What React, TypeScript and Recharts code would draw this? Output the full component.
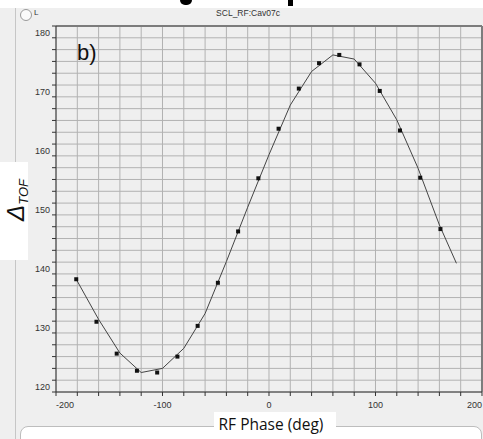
import { ComposedChart, Scatter, XAxis, YAxis, CartesianGrid, ReferenceLine } from 'recharts'

// measured phase scan points
const phase = [-181, -162, -143, -124, -105, -86, -67, -48, -29, -10, 9, 28, 47, 66, 85, 104, 123, 142, 161]
const tof = [139.1, 131.9, 126.5, 123.6, 123.3, 126.0, 131.2, 138.5, 147.2, 156.2, 164.6, 171.4, 175.7, 177.1, 175.5, 171.0, 164.3, 156.3, 147.6]

// fitted curve vertices
const fitPhase = [-181, -160, -140, -120, -100, -80, -60, -40, -20, 0, 20, 40, 60, 80, 100, 120, 140, 160, 176]
const fitTof = [139.1, 132.3, 126.6, 123.3, 124.0, 127.4, 133.3, 142.1, 151.3, 160.2, 168.6, 174.3, 177.1, 176.4, 172.3, 166.1, 157.9, 148.3, 141.8]

const xTicks = [-200, -180, -160, -140, -120, -100, -80, -60, -40, -20, 0, 20, 40, 60, 80, 100, 120, 140, 160, 180, 200]
const yTicks = [120, 122, 124, 126, 128, 130, 132, 134, 136, 138, 140, 142, 144, 146, 148, 150, 152, 154, 156, 158, 160, 162, 164, 166, 168, 170, 172, 174, 176, 178, 180, 182]

const points = phase.map((p, i) => ({ x: p, y: tof[i] }))
const fit = fitPhase.map((p, i) => ({ x: p, y: fitTof[i] }))

const tickFont = { fontFamily: 'Liberation Sans, sans-serif', fontSize: 9, fill: '#333' }

const YTick = (props: any) => {
  const { x, y, payload } = props
  if (payload.value % 10 !== 0 || payload.value > 180) return <g />
  return (
    <text x={x} y={y - 5} dy="0.35em" textAnchor="end" {...tickFont}>
      {payload.value}
    </text>
  )
}

const XTick = (props: any) => {
  const { x, y, payload } = props
  if (payload.value % 100 !== 0) return <g />
  let anchor = 'middle'
  if (payload.value === -200) anchor = 'start'
  if (payload.value === 200) anchor = 'end'
  return (
    <text x={x} y={y + 10} textAnchor={anchor} {...tickFont}>
      {payload.value}
    </text>
  )
}

const Square = (props: any) => {
  const { cx, cy } = props
  return <rect x={cx - 2} y={cy - 2} width={4} height={4} fill="#111" />
}

export default function App() {
  return (
    <div style={{ position: 'absolute', left: 0, top: 0, width: 483, height: 439, background: '#efefef', overflow: 'hidden' }}>
      {/* white strip at the top, with the bottoms of a cut off caption */}
      <div style={{ position: 'absolute', left: 0, top: 0, width: 483, height: 8, background: '#fff' }} />
      <div style={{ position: 'absolute', left: 180, top: 0, width: 12, height: 5, background: '#000', borderRadius: '0 0 6px 6px' }} />
      <div style={{ position: 'absolute', left: 288, top: 0, width: 5, height: 6, background: '#000' }} />
      <div style={{ position: 'absolute', left: 15, top: 8, width: 1, height: 431, background: '#c6c6c6' }} />
      <div style={{ position: 'absolute', left: 20, top: 426, width: 460, height: 30, background: '#fff', border: '1px solid #bdbdbd', borderRadius: 8 }} />

      <div style={{ position: 'absolute', left: 0, top: 0 }}>
        <ComposedChart width={483} height={439} margin={{ top: 26, right: 1, bottom: 0, left: 0 }}>
          <CartesianGrid stroke="#b2b2b2" strokeWidth={1} />
          <XAxis
            type="number"
            dataKey="x"
            domain={[-200, 200.01]}
            ticks={xTicks}
            height={47}
            stroke="#333"
            tickSize={4}
            tickMargin={2}
            tick={<XTick />}
            interval={0}
          />
          <YAxis
            type="number"
            dataKey="y"
            domain={[120, 182]}
            ticks={yTicks}
            width={56}
            stroke="#333"
            tickSize={4}
            tickMargin={2}
            tick={<YTick />}
            interval={0}
          />
          <ReferenceLine y={182} stroke="#7c7c7c" strokeWidth={2} />
          <ReferenceLine x={200} stroke="#7c7c7c" strokeWidth={2} />
          <Scatter
            data={fit}
            line={{ stroke: '#444', strokeWidth: 1 }}
            shape={() => <g />}
            isAnimationActive={false}
          />
          <Scatter data={points} shape={<Square />} isAnimationActive={false} />
        </ComposedChart>
      </div>

      {/* panel title and radio */}
      <div style={{ position: 'absolute', left: 20, top: 9, width: 10, height: 10, borderRadius: 6, border: '1px solid #9a9a9a', background: '#fafafa' }} />
      <div style={{ position: 'absolute', left: 34, top: 8, font: '8px Liberation Sans', color: '#333' }}>L</div>
      <div style={{ position: 'absolute', left: 148, top: 8, width: 200, textAlign: 'center', font: '8.5px Liberation Sans', color: '#333' }}>SCL_RF:Cav07c</div>
      <div style={{ position: 'absolute', left: 77, top: 40, font: '22px Liberation Sans', color: '#111' }}>b)</div>

      {/* y axis label */}
      <div style={{ position: 'absolute', left: 0, top: 162, width: 28, height: 98, background: '#fff' }} />
      <div
        style={{
          position: 'absolute', left: -24, top: 186, width: 80, height: 28, lineHeight: '28px',
          textAlign: 'center', transform: 'rotate(-90deg)', color: '#111', fontFamily: 'Liberation Sans',
        }}
      >
        <span style={{ fontSize: 24, fontStyle: 'italic' }}>Δ</span>
        <span style={{ fontSize: 13, fontStyle: 'italic', position: 'relative', top: 4 }}>TOF</span>
      </div>

      {/* x axis label */}
      <div style={{ position: 'absolute', left: 214, top: 412, width: 122, height: 27, background: '#fff' }} />
      <div style={{ position: 'absolute', left: 214, top: 413, width: 114, textAlign: 'center', font: '15.5px Open Sans', color: '#111' }}>
        RF Phase (deg)
      </div>
    </div>
  )
}
